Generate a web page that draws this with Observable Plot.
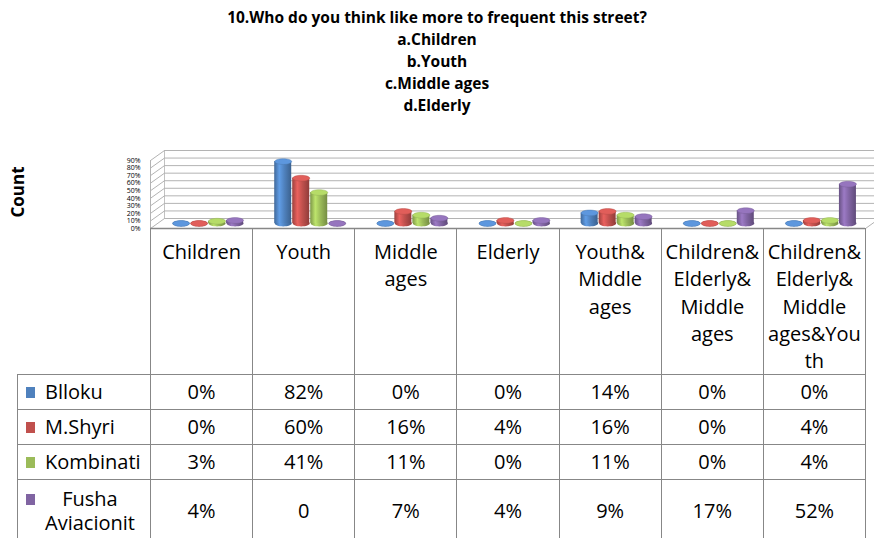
<!DOCTYPE html>
<html>
<head>
<meta charset="utf-8">
<script src="https://cdn.jsdelivr.net/npm/d3@7"></script>
<script src="https://cdn.jsdelivr.net/npm/@observablehq/plot@0.6"></script>
<style>
html, body { margin: 0; padding: 0; background: #fff; }
#root { position: relative; width: 874px; height: 538px; overflow: hidden; font-family: "Open Sans", sans-serif; color: #000; }
#title { position: absolute; top: 6px; left: 0; width: 874px; text-align: center; font-weight: bold; font-size: 15.5px; line-height: 22px; }
#count { position: absolute; left: 17px; top: 192px; transform: translate(-50%, -50%) rotate(-90deg); font-weight: bold; font-size: 17px; white-space: nowrap; }
#plot { position: absolute; left: 0; top: 140px; }
#tbl { position: absolute; left: 17px; top: 228px; border-collapse: collapse; table-layout: fixed; width: 848px; }
#tbl td { border: 1.5px solid #878787; padding: 0; font-size: 20px; text-align: center; box-sizing: border-box; }
#tbl tr.head td { vertical-align: top; line-height: 27.3px; padding-top: 9px; white-space: pre-line; height: 141px; }
#tbl tr.head td.corner { border: none; }
#tbl tr.row td { height: 35px; line-height: 24px; vertical-align: middle; }
#tbl tr.tall td { height: 62px; line-height: 24px; vertical-align: middle; }
#tbl td.leg { text-align: left; padding-left: 8px; }
.legwrap { display: flex; align-items: flex-start; }
.sw { display: inline-block; width: 9px; height: 11px; margin-top: 7px; margin-right: 10px; flex: none; }
.lt { white-space: pre-line; text-align: center; }
</style>
</head>
<body>
<div id="root">
  <div id="title"></div>
  <div id="count">Count</div>
  <div id="plot"></div>
  <table id="tbl"></table>
</div>
<script>
// ---- data ----
const titleLines = [
  "10.Who do you think like more to frequent this street?",
  "a.Children",
  "b.Youth",
  "c.Middle ages",
  "d.Elderly"
];
const categories = ["Children", "Youth", "Middle ages", "Elderly", "Youth&Middle ages", "Children&Elderly&Middle ages", "Children&Elderly&Middle ages&Youth"];
const categoryTickLabels = ["Children", "Youth", "Middle\nages", "Elderly", "Youth&\nMiddle\nages", "Children&\nElderly&\nMiddle\nages", "Children&\nElderly&\nMiddle\nages&You\nth"];
const series = ["Blloku", "M.Shyri", "Kombinati", "Fusha Aviacionit"];
const seriesLegendLabels = ["Blloku", "M.Shyri", "Kombinati", "Fusha\nAviacionit"];
const seriesColors = ["#4F81BD", "#C0504D", "#9BBB59", "#8064A2"];
const blloku = [0, 82, 0, 0, 14, 0, 0];
const mShyri = [0, 60, 16, 4, 16, 0, 4];
const kombinati = [3, 41, 11, 0, 11, 0, 4];
const fushaAviacionit = [4, 0, 7, 4, 9, 17, 52];
const seriesValues = [blloku, mShyri, kombinati, fushaAviacionit];
const yTicks = [0, 10, 20, 30, 40, 50, 60, 70, 80, 90];
const yMax = 90;
// table cells whose printed text differs from "n%"
const tableTextOverrides = [{series: 3, category: 1, text: "0"}];

// ---- title ----
d3.select("#title").selectAll("div").data(titleLines).join("div").text(d => d);

// ---- 3D column chart ----
const W = 874, H = 90, mL = 150, mR = 9, mT = 20, mB = 2;
const kx = (W - mL - mR) / categories.length;   // px per category
const ky = (H - mT - mB) / yMax;                // px per percent
const depthX = 14 / kx, depthY = 10 / ky;       // back-wall offset in data units
const barW = 18 / kx, barGap = 1 / kx;
const groupStart = 0.5 - (series.length * barW) / 2 + depthX / 2;
const capR = (barW - barGap) * kx / 2;

const ellipse = {
  draw(ctx, size) {
    const rx = Math.sqrt(size / Math.PI), ry = rx * 0.34, k = 0.5523;
    ctx.moveTo(rx, 0);
    ctx.bezierCurveTo(rx, ry * k, rx * k, ry, 0, ry);
    ctx.bezierCurveTo(-rx * k, ry, -rx, ry * k, -rx, 0);
    ctx.bezierCurveTo(-rx, -ry * k, -rx * k, -ry, 0, -ry);
    ctx.bezierCurveTo(rx * k, -ry, rx, -ry * k, rx, 0);
    ctx.closePath();
  }
};

const gridColor = "#b3b3b3";
const marks = [
  Plot.ruleY(yTicks, {y: d => d + depthY, x1: depthX, x2: categories.length + depthX, stroke: gridColor, strokeWidth: 1}),
  Plot.link(yTicks, {x1: 0, y1: d => d, x2: depthX, y2: d => d + depthY, stroke: gridColor, strokeWidth: 1}),
  Plot.ruleX([0], {y1: 0, y2: yMax, stroke: gridColor, strokeWidth: 1}),
  Plot.ruleX([depthX], {y1: depthY, y2: yMax + depthY, stroke: gridColor, strokeWidth: 0.8}),
  Plot.link([0], {x1: categories.length, y1: 0, x2: categories.length + depthX, y2: depthY, stroke: gridColor, strokeWidth: 1}),
  Plot.ruleY([0], {x1: 0, x2: categories.length, stroke: "#878787", strokeWidth: 1.5})
];

series.forEach((s, si) => {
  const data = seriesValues[si].map((v, ci) => ({ci, v}));
  const x1 = d => d.ci + groupStart + si * barW;
  const x2 = d => d.ci + groupStart + (si + 1) * barW - barGap;
  const xc = d => (x1(d) + x2(d)) / 2;
  const base = d3.color(seriesColors[si]);
  marks.push(
    Plot.dot(data, {x: xc, y: depthY / 2, r: capR, symbol: ellipse, fill: `url(#cyl${si})`}),
    Plot.rect(data, {x1, x2, y1: depthY / 2, y2: d => d.v + depthY / 2, fill: `url(#cyl${si})`}),
    Plot.dot(data, {x: xc, y: d => d.v + depthY / 2, r: capR, symbol: ellipse, fill: base.brighter(0.45).formatHex(), stroke: base.darker(0.3).formatHex(), strokeWidth: 0.4})
  );
});

const chart = Plot.plot({
  width: W, height: H,
  marginLeft: mL, marginRight: mR, marginTop: mT, marginBottom: mB,
  style: {fontFamily: "Open Sans, sans-serif", fontSize: "7px", background: "transparent", overflow: "visible", color: "#000"},
  x: {domain: [0, categories.length], axis: null},
  y: {domain: [0, yMax], ticks: yTicks, tickFormat: d => d + "%", tickSize: 0, tickPadding: 10, label: null},
  marks
});

const defs = d3.select(chart).insert("defs", ":first-child");
seriesColors.forEach((c, i) => {
  const base = d3.color(c);
  const g = defs.append("linearGradient").attr("id", `cyl${i}`)
    .attr("x1", "0").attr("x2", "1").attr("y1", "0").attr("y2", "0");
  [[0, base.darker(0.6)], [0.3, base.brighter(0.55)], [0.6, base], [1, base.darker(0.8)]]
    .forEach(([o, col]) => g.append("stop").attr("offset", o).attr("stop-color", col.formatHex()));
});
document.getElementById("plot").appendChild(chart);

// ---- data table ----
const cellText = (si, ci) => {
  const o = tableTextOverrides.find(t => t.series === si && t.category === ci);
  return o ? o.text : seriesValues[si][ci] + "%";
};
const table = d3.select("#tbl");
const cg = table.append("colgroup");
cg.append("col").style("width", "133px");
categories.forEach(() => cg.append("col").style("width", `${kx}px`));
const head = table.append("tr").attr("class", "head");
head.append("td").attr("class", "corner");
categoryTickLabels.forEach(t => head.append("td").text(t));
series.forEach((s, si) => {
  const tr = table.append("tr").attr("class", si === series.length - 1 ? "tall" : "row");
  const wrap = tr.append("td").attr("class", "leg").append("div").attr("class", "legwrap");
  wrap.append("span").attr("class", "sw").style("background", seriesColors[si]);
  wrap.append("span").attr("class", "lt").text(seriesLegendLabels[si]);
  seriesValues[si].forEach((v, ci) => tr.append("td").text(cellText(si, ci)));
});
</script>
</body>
</html>
